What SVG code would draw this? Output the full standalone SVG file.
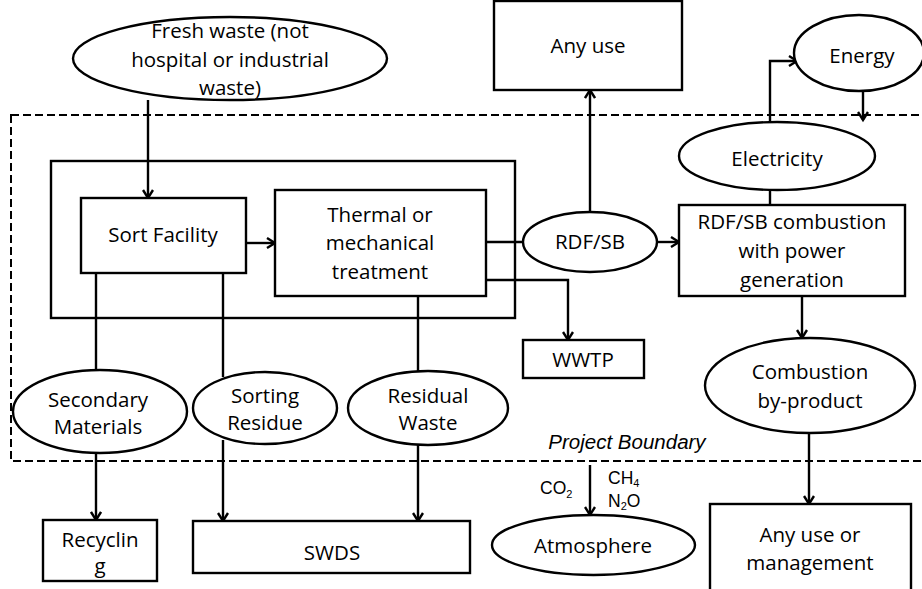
<svg xmlns="http://www.w3.org/2000/svg" width="922" height="589" viewBox="0 0 922 589">
<style>
.s{fill:none;stroke:#000;stroke-width:2.4}
.n{fill:#fff;stroke:#000;stroke-width:2.4}
.t{font-family:"Open Sans","Liberation Sans",sans-serif;font-size:20.5px;fill:#000;text-anchor:middle}
.g{font-family:"Liberation Sans",Arial,sans-serif;font-size:17.5px;fill:#000}
.sub{font-size:11px}
.c{fill:none;stroke:#000;stroke-width:2.4}
.a{marker-end:url(#ah)}
</style>
<defs>
<marker id="ah" markerUnits="userSpaceOnUse" markerWidth="12" markerHeight="12" refX="9" refY="6" orient="auto">
<path d="M1,1 L9,6 L1,11" fill="none" stroke="#000" stroke-width="2.4"/>
</marker>
</defs>
<rect x="0" y="0" width="922" height="589" fill="#fff"/>
<g id="boundary">
<rect x="11" y="115" width="930" height="346" fill="none" stroke="#000" stroke-width="2" stroke-dasharray="8 4"/>
<text x="627" y="449" style="font-family:'Liberation Sans',Arial,sans-serif;font-size:20.5px;font-style:italic;text-anchor:middle">Project Boundary</text>
</g>
<g id="facility-frame"><rect class="s" x="51" y="161" width="464" height="157"/></g>
<g id="connectors">
<line class="c a" x1="148" y1="100" x2="148" y2="198"/>
<line class="c a" x1="246" y1="243" x2="275" y2="243"/>
<line class="c" x1="486" y1="242" x2="523" y2="242"/>
<line class="c a" x1="590" y1="212" x2="590" y2="90"/>
<line class="c a" x1="658" y1="242" x2="679" y2="242"/>
<polyline class="c a" points="486,280 568,280 568,340"/>
<polyline class="c a" points="770,122 770,61 797,61"/>
<line class="c a" x1="863" y1="91" x2="863" y2="120"/>
<line class="c" x1="770" y1="190" x2="770" y2="205"/>
<line class="c a" x1="802" y1="296" x2="802" y2="338"/>
<line class="c a" x1="809" y1="433" x2="809" y2="504"/>
<line class="c" x1="96" y1="273" x2="96" y2="370"/>
<line class="c a" x1="96" y1="453" x2="96" y2="520"/>
<line class="c" x1="223" y1="273" x2="223" y2="377"/>
<line class="c a" x1="223" y1="440" x2="223" y2="521"/>
<line class="c" x1="418" y1="296" x2="418" y2="371"/>
<line class="c a" x1="418" y1="445" x2="418" y2="521"/>
<line class="c a" x1="590" y1="465" x2="590" y2="515"/>
</g>
<g id="fresh-waste">
<ellipse class="n" cx="230" cy="58.5" rx="157" ry="41.5"/>
<text class="t" x="230" y="38">Fresh waste (not</text>
<text class="t" x="230" y="67">hospital or industrial</text>
<text class="t" x="230" y="95">waste)</text>
</g>
<g id="sort-facility">
<rect class="n" x="81" y="198" width="165" height="75"/>
<text class="t" x="163" y="242">Sort Facility</text>
</g>
<g id="thermal">
<rect class="n" x="275" y="190" width="211" height="106"/>
<text class="t" x="380" y="222">Thermal or</text>
<text class="t" x="380" y="250">mechanical</text>
<text class="t" x="380" y="279">treatment</text>
</g>
<g id="any-use">
<rect class="n" x="494" y="1" width="188" height="89"/>
<text class="t" x="588" y="53">Any use</text>
</g>
<g id="energy">
<ellipse class="n" cx="859" cy="53" rx="65" ry="38"/>
<text class="t" x="862" y="63">Energy</text>
</g>
<g id="electricity">
<ellipse class="n" cx="777" cy="156" rx="98" ry="34"/>
<text class="t" x="777" y="166">Electricity</text>
</g>
<g id="rdf-sb">
<ellipse class="n" cx="590" cy="242" rx="67" ry="30"/>
<text class="t" x="590" y="249">RDF/SB</text>
</g>
<g id="combustion">
<rect class="n" x="679" y="205" width="226" height="91"/>
<text class="t" x="792" y="229">RDF/SB combustion</text>
<text class="t" x="792" y="258">with power</text>
<text class="t" x="792" y="287">generation</text>
</g>
<g id="wwtp">
<rect class="n" x="523" y="340" width="121" height="38"/>
<text class="t" x="583" y="367">WWTP</text>
</g>
<g id="by-product">
<ellipse class="n" cx="810" cy="385.5" rx="105" ry="47.5"/>
<text class="t" x="810" y="379">Combustion</text>
<text class="t" x="810" y="408">by-product</text>
</g>
<g id="any-use-management">
<rect class="n" x="710" y="504" width="201" height="100"/>
<text class="t" x="810" y="542">Any use or</text>
<text class="t" x="810" y="570">management</text>
</g>
<g id="secondary">
<ellipse class="n" cx="100" cy="411.5" rx="87" ry="41.5"/>
<text class="t" x="98" y="407">Secondary</text>
<text class="t" x="98" y="434">Materials</text>
</g>
<g id="sorting-residue">
<ellipse class="n" cx="265" cy="408" rx="72" ry="36"/>
<text class="t" x="265" y="403">Sorting</text>
<text class="t" x="265" y="430">Residue</text>
</g>
<g id="residual-waste">
<ellipse class="n" cx="428" cy="408" rx="80" ry="37"/>
<text class="t" x="428" y="403">Residual</text>
<text class="t" x="428" y="430">Waste</text>
</g>
<g id="recycling">
<rect class="n" x="43" y="520" width="114" height="61"/>
<text class="t" x="100" y="547">Recyclin</text>
<text class="t" x="100" y="573">g</text>
</g>
<g id="swds">
<rect class="n" x="193" y="521" width="277" height="52"/>
<text class="t" x="332" y="560">SWDS</text>
</g>
<g id="gases">
<text class="g" x="540" y="494">CO<tspan class="sub" dy="4">2</tspan></text>
<text class="g" x="608" y="484">CH<tspan class="sub" dy="3">4</tspan></text>
<text class="g" x="608" y="507">N<tspan class="sub" dy="3">2</tspan><tspan dy="-3">O</tspan></text>
</g>
<g id="atmosphere">
<ellipse class="n" cx="593.5" cy="545" rx="101.5" ry="30"/>
<text class="t" x="593" y="553">Atmosphere</text>
</g>
</svg>
